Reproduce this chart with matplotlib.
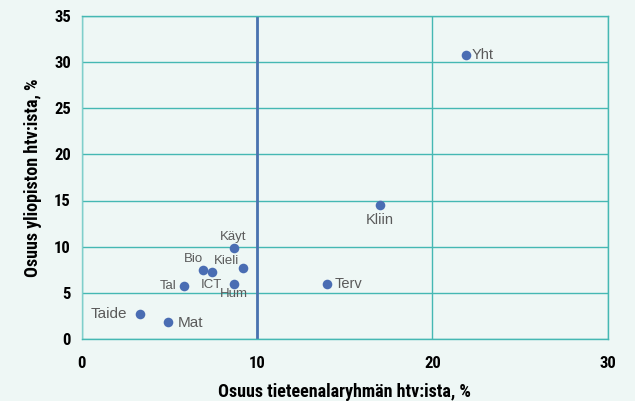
import matplotlib
matplotlib.use("Agg")
import matplotlib.pyplot as plt
from matplotlib import font_manager

# data
names = ["Taide", "Mat", "Tal", "Bio", "ICT", "Käyt", "Kieli", "Hum", "Terv", "Kliin", "Yht"]
x_share = [3.3, 4.9, 5.8, 6.9, 7.4, 8.65, 9.2, 8.65, 14.0, 17.0, 21.9]
y_share = [2.7, 1.8, 5.7, 7.5, 7.25, 9.8, 7.7, 6.0, 6.0, 14.5, 30.8]

xticks = [0, 10, 20, 30]
yticks = [0, 5, 10, 15, 20, 25, 30, 35]

# label placement (offset in points, ha, va, size)
lab = {
    "Taide": ((-9, 0), "right", "center", 11),
    "Mat":   ((7, -0.5), "left", "center", 11),
    "Tal":   ((-5, 0), "right", "center", 9.5),
    "Bio":   ((-7, 7.5), "center", "center", 9.5),
    "ICT":   ((0, -9.5), "center", "center", 9.5),
    "Käyt":  ((0, 8.5), "center", "center", 9.5),
    "Kieli": ((-12, 5), "center", "center", 9.5),
    "Hum":   ((0, -7.5), "center", "center", 9.5),
    "Terv":  ((5, 0), "left", "center", 10.5),
    "Kliin": ((0, -11), "center", "center", 10.5),
    "Yht":   ((4, 0), "left", "center", 10.5),
}

avail = {f.name for f in font_manager.fontManager.ttflist}
axfont = [f for f in ["Roboto Condensed", "PT Sans Narrow", "Fira Sans Condensed"] if f in avail] + ["DejaVu Sans"]
labfont = [f for f in ["Liberation Sans", "Arial"] if f in avail] + ["DejaVu Sans"]

bg = "#eef7f5"
grid_c = "#45b8b3"
dot_c = "#4a6db3"

fig = plt.figure(figsize=(6.35, 4.01), dpi=100, facecolor=bg)
ax = fig.add_axes([0.129, 0.155, 0.828, 0.805])
ax.set_facecolor(bg)

ax.set_xlim(0, 30)
ax.set_ylim(0, 35)
ax.set_xticks(xticks)
ax.set_yticks(yticks)
ax.grid(True, color=grid_c, linewidth=1)
ax.set_axisbelow(True)
for s in ax.spines.values():
    s.set_color(grid_c)
    s.set_linewidth(1)
ax.spines["left"].set_color("#7fcfcb")
ax.tick_params(length=0)
ax.tick_params(axis="x", pad=12)
ax.tick_params(axis="y", pad=8)
for t in ax.get_xticklabels() + ax.get_yticklabels():
    t.set_fontfamily(axfont)
    t.set_fontweight("bold")
    t.set_fontsize(12)

ax.axvline(10, color="#4a72b0", linewidth=2, zorder=2)

ax.scatter(x_share, y_share, s=48, color=dot_c, zorder=3, linewidths=0)
for n, xv, yv in zip(names, x_share, y_share):
    off, ha, va, fs = lab[n]
    ax.annotate(n, (xv, yv), xytext=off, textcoords="offset points",
                ha=ha, va=va, fontsize=fs, color="#5a5a5a",
                fontfamily=labfont, zorder=4)

ax.set_xlabel("Osuus tieteenalaryhmän htv:ista, %", fontfamily=axfont,
              fontweight="bold", fontsize=13, labelpad=9)
ax.set_ylabel("Osuus yliopiston htv:ista, %", fontfamily=axfont,
              fontweight="bold", fontsize=13, labelpad=9)

fig.savefig("out.png", dpi=100, facecolor=bg)
